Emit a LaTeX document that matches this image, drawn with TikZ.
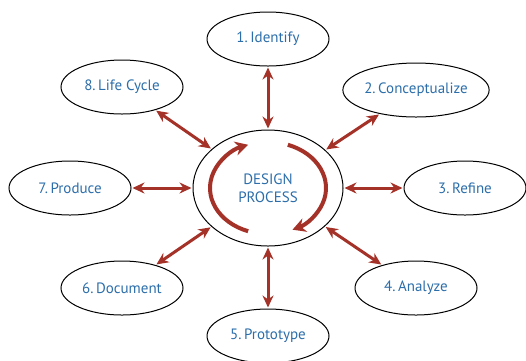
\documentclass[tikz,border=0pt]{standalone}
\usepackage{fontspec}
\setmainfont{PT Sans}
\usetikzlibrary{arrows.meta, shapes.geometric}
\definecolor{stageblue}{RGB}{44,110,170}
\definecolor{stagered}{RGB}{165,50,40}
\tikzset{
  stage/.style={draw=black, line width=1pt, ellipse, inner sep=0pt,
    minimum width=122pt, minimum height=54pt, text=stageblue,
    font=\fontsize{15}{18}\selectfont},
  link/.style={stagered, line width=3pt, shorten <=1pt, shorten >=1pt,
    {Stealth[length=12pt,width=11pt]}-{Stealth[length=12pt,width=11pt]}},
}

\begin{document}
\begin{tikzpicture}[x=1pt, y=-1pt]
          \useasboundingbox (0,0) rectangle (526,360);
          % Centre
          \node[stage, minimum width=150pt, minimum height=116pt, align=center,
            font=\fontsize{15}{18}\selectfont] (core) at (268,188) {DESIGN\\PROCESS};
          % Stages
          \node[stage] (identify) at (268,39) {1.\,Identify};
          \node[stage] (conceptualize) at (416,90) {2.\,Conceptualize};
          \node[stage] (refine) at (465,188) {3.\,Refine};
          \node[stage] (analyze) at (416,288) {4.\,Analyze};
          \node[stage] (prototype) at (268,336) {5.\,Prototype};
          \node[stage] (document) at (122,288) {6.\,Document};
          \node[stage] (produce) at (70,188) {7.\,Produce};
          \node[stage] (lifecycle) at (122,87) {8.\,Life Cycle};
          % Links
          \draw[link] (core) -- (identify);
          \draw[link] (core) -- (conceptualize);
          \draw[link] (core) -- (refine);
          \draw[link] (core) -- (analyze);
          \draw[link] (core) -- (prototype);
          \draw[link] (core) -- (document);
          \draw[link] (core) -- (produce);
          \draw[link] (core) -- (lifecycle);
          % Cycle arrows
          \draw[stagered, line width=4pt, -{Stealth[length=13pt,width=14pt]}]
            ([shift={(250:58pt and 46pt)}]core.center)
            arc[start angle=250, end angle=110, x radius=58pt, y radius=46pt];
          \draw[stagered, line width=4pt, -{Stealth[length=13pt,width=14pt]}]
            ([shift={(70:58pt and 46pt)}]core.center)
            arc[start angle=70, end angle=-65, x radius=58pt, y radius=46pt];
        \end{tikzpicture}
\end{document}
